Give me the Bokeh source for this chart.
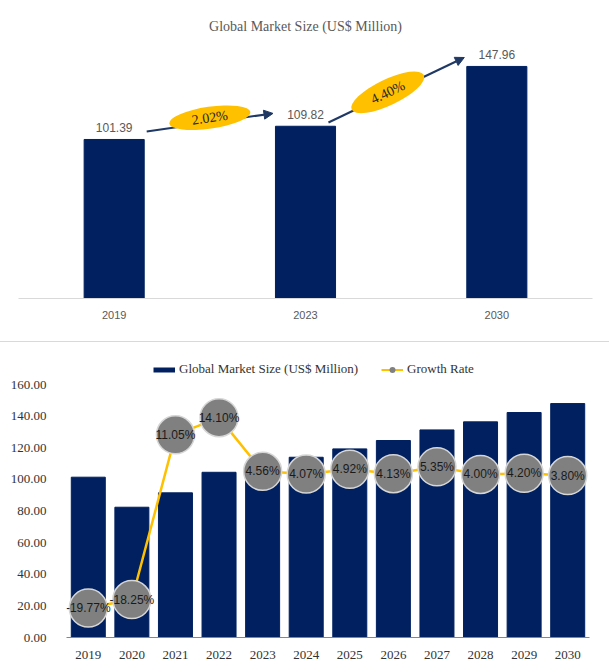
import math
from bokeh.plotting import figure
from bokeh.models import (ColumnDataSource, Range1d, FixedTicker, NumeralTickFormatter,
                          Arrow, NormalHead, Legend, LegendItem, Div)
from bokeh.embed import file_html
from bokeh.resources import INLINE
from bokeh.core.properties import value

# ---------------- data ----------------
top_years = ["2019", "2023", "2030"]
top_values = [101.39, 109.82, 147.96]
top_cagr = ["2.02%", "4.40%"]

years = ["2019", "2020", "2021", "2022", "2023", "2024",
         "2025", "2026", "2027", "2028", "2029", "2030"]
market = [101.39, 82.4, 91.5, 104.5, 109.82, 114.0,
          119.3, 124.6, 131.3, 136.4, 142.3, 147.96]
growth = [-19.77, -18.25, 11.05, 14.10, 4.56, 4.07,
          4.92, 4.13, 5.35, 4.00, 4.20, 3.80]
growth_labels = ["-19.77%", "-18.25%", "11.05%", "14.10%", "4.56%", "4.07%",
                 "4.92%", "4.13%", "5.35%", "4.00%", "4.20%", "3.80%"]
y_ticks = [0, 20, 40, 60, 80, 100, 120, 140, 160]

# ---------------- styles ----------------
NAVY = "#002060"
ARROW = "#1F3864"
GOLD = "#FFC000"
BUBBLE = "#808080"
GREY_TXT = "#595959"
DARK_TXT = "#333333"
SERIF = "Liberation Serif"
SANS = "Liberation Sans"
W = 609
NAN = float("nan")

# ================= top chart =================
TOP_H = 341
T_LEFT, T_RIGHT, T_TOP, T_BOTTOM = 18, 17, 40, 43
T_YMAX = 164.5
p1 = figure(width=W, height=TOP_H, x_range=Range1d(-0.5, len(top_years) - 0.5),
            y_range=Range1d(0, T_YMAX), output_backend="svg", toolbar_location=None,
            y_axis_location=None, min_border_left=T_LEFT, min_border_right=T_RIGHT,
            min_border_top=T_TOP, min_border_bottom=T_BOTTOM)
p1.title.text = "Global Market Size (US$ Million)"
p1.title.align = "center"
p1.title.text_font = SERIF
p1.title.text_font_size = "14px"
p1.title.text_font_style = "normal"
p1.title.text_color = GREY_TXT
p1.title.standoff = 14
p1.xgrid.visible = False
p1.ygrid.visible = False
p1.outline_line_color = None

xs_top = list(range(len(top_years)))
ax = p1.xaxis[0]
ax.ticker = FixedTicker(ticks=xs_top)
ax.major_label_overrides = {i: y for i, y in zip(xs_top, top_years)}
ax.axis_line_color = "#D9D9D9"
ax.major_tick_line_color = None
ax.minor_tick_line_color = None
ax.major_label_standoff = 6
ax.major_label_text_font = SANS
ax.major_label_text_font_size = "11px"
ax.major_label_text_color = GREY_TXT

src_top = ColumnDataSource(dict(x=xs_top, top=top_values,
                                label=[f"{v:.2f}" for v in top_values]))
p1.vbar(x="x", top="top", width=0.314, fill_color=NAVY, line_color=NAVY, source=src_top)
p1.text(x="x", y="top", text="label", source=src_top, text_align="center",
        text_baseline="middle", y_offset=-12, text_font=value(SANS),
        text_font_size="12px", text_color=GREY_TXT)

# arrows between consecutive bars (offsets are styling)
start_dx = [0.17, 0.12]
start_dy = [5.1, 2.4]
end_dx = [0.17, 0.17]
end_dy = [8.2, 5.7]
n_arr = len(top_cagr)
x0 = [i + start_dx[i] for i in range(n_arr)]
y0 = [top_values[i] + start_dy[i] for i in range(n_arr)]
x1 = [i + 1 - end_dx[i] for i in range(n_arr)]
y1 = [top_values[i + 1] + end_dy[i] for i in range(n_arr)]
arrow_src = ColumnDataSource(dict(x0=x0, y0=y0, x1=x1, y1=y1))
p1.add_layout(Arrow(x_start="x0", y_start="y0", x_end="x1", y_end="y1", source=arrow_src,
                    line_color=ARROW, line_width=2, level="underlay",
                    end=NormalHead(size=9, fill_color=ARROW, line_color=ARROW)))

ppu_x = (W - T_LEFT - T_RIGHT) / len(top_years)
ppu_y = (TOP_H - T_TOP - T_BOTTOM) / T_YMAX
ell_dx = [0.0, -0.045]
ell_dy = [3.0, -1.5]
ex = [(x0[i] + x1[i]) / 2 + ell_dx[i] for i in range(n_arr)]
ey = [(y0[i] + y1[i]) / 2 + ell_dy[i] for i in range(n_arr)]
ang = [math.atan2((y1[i] - y0[i]) * ppu_y, (x1[i] - x0[i]) * ppu_x) for i in range(n_arr)]
ell_src = ColumnDataSource(dict(x=ex, y=ey, angle=ang, text=top_cagr,
                                w=[82, 80], h=[22, 26]))
p1.ellipse(x="x", y="y", width="w", height="h", angle="angle", source=ell_src,
           width_units="screen", height_units="screen", fill_color=GOLD, line_color=None)
p1.text(x="x", y="y", text="text", angle="angle", source=ell_src, text_align="center",
        text_baseline="middle", text_font=value(SERIF), text_font_size="14px",
        text_color="#262626")

sep = Div(width=W, height=1, margin=0, styles={"background-color": "#D9D9D9"})

# ================= bottom chart =================
BOT_H = 330
B_LEFT, B_RIGHT, B_TOP, B_BOTTOM = 66, 20, 15, 35
p2 = figure(width=W, height=BOT_H, x_range=Range1d(-0.5, len(years) - 0.5),
            y_range=Range1d(0, 177.1), output_backend="svg", toolbar_location=None,
            min_border_left=B_LEFT, min_border_right=B_RIGHT,
            min_border_top=B_TOP, min_border_bottom=B_BOTTOM)
p2.extra_y_ranges = {"growth": Range1d(-25, 24.8)}
p2.xgrid.visible = False
p2.ygrid.visible = False
p2.outline_line_color = None

xs = list(range(len(years)))
xa = p2.xaxis[0]
xa.ticker = FixedTicker(ticks=xs)
xa.major_label_overrides = {i: y for i, y in zip(xs, years)}
xa.axis_line_color = "#868686"
xa.major_tick_line_color = None
xa.minor_tick_line_color = None
xa.major_label_standoff = 7
xa.major_label_text_font = SERIF
xa.major_label_text_font_size = "13px"
xa.major_label_text_color = DARK_TXT

ya = p2.yaxis[0]
ya.ticker = FixedTicker(ticks=y_ticks)
ya.formatter = NumeralTickFormatter(format="0.00")
ya.axis_line_color = None
ya.major_tick_line_color = None
ya.minor_tick_line_color = None
ya.major_label_standoff = 14
ya.major_label_text_font = SERIF
ya.major_label_text_font_size = "13px"
ya.major_label_text_color = DARK_TXT

src = ColumnDataSource(dict(x=xs, market=market, growth=growth, label=growth_labels))
p2.vbar(x="x", top="market", width=0.78, fill_color=NAVY, line_color=NAVY, source=src)
p2.line(x="x", y="growth", source=src, y_range_name="growth", line_color=GOLD, line_width=2.5)
p2.scatter(x="x", y="growth", source=src, y_range_name="growth", size=38,
           fill_color=BUBBLE, line_color="#D6D6D6", line_width=1.5)
p2.text(x="x", y="growth", text="label", source=src, y_range_name="growth",
        text_align="center", text_baseline="middle", text_font=value(SANS),
        text_font_size="12px", text_color="#1A1A1A")

# legend-only renderers (no visible marks)
leg_bar = p2.line(x=[NAN], y=[NAN], line_color=NAVY, line_width=5)
leg_line = p2.line(x=[NAN], y=[NAN], line_color=GOLD, line_width=2)
leg_dot = p2.scatter(x=[NAN], y=[NAN], size=6, fill_color=BUBBLE, line_color=None)
legend = Legend(items=[LegendItem(label="Global Market Size (US$ Million)", renderers=[leg_bar]),
                       LegendItem(label="Growth Rate", renderers=[leg_line, leg_dot])],
                location=(87, 260), orientation="horizontal", padding=0, margin=0,
                spacing=23, label_standoff=4, glyph_width=22, glyph_height=15,
                label_height=15, border_line_color=None, background_fill_alpha=0,
                label_text_font=SERIF, label_text_font_size="13px",
                label_text_color=DARK_TXT)
p2.add_layout(legend)

open("out.html", "w").write(file_html([p1, sep, p2], INLINE))
